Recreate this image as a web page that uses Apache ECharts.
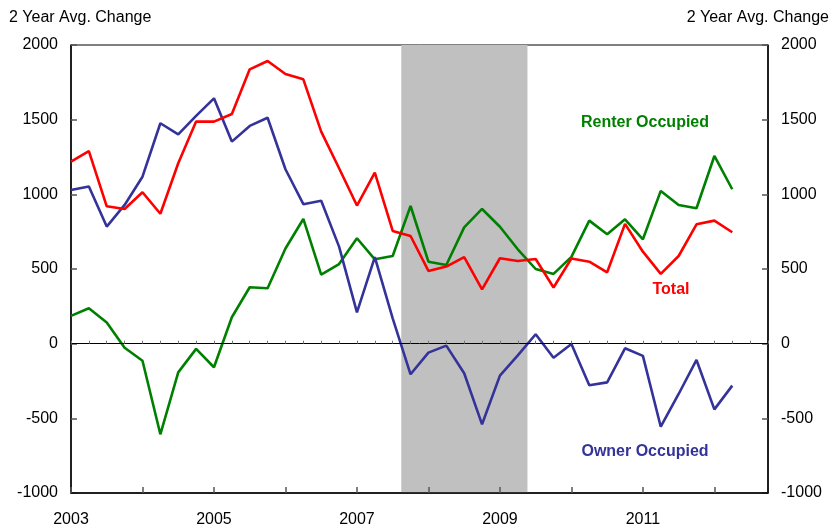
<!DOCTYPE html>
<html>
<head>
<meta charset="utf-8">
<script src="https://cdn.jsdelivr.net/npm/echarts@6/dist/echarts.min.js"></script>
<style>
  body { margin: 0; padding: 0; background: #fff; }
  #chart { width: 833px; height: 531px; }
</style>
</head>
<body>
<div id="chart"></div>
<script>
// quarterly points, 2003Q1 .. 2012Q2
const quarters = [
  2003, 2003.25, 2003.5, 2003.75, 2004, 2004.25, 2004.5, 2004.75,
  2005, 2005.25, 2005.5, 2005.75, 2006, 2006.25, 2006.5, 2006.75,
  2007, 2007.25, 2007.5, 2007.75, 2008, 2008.25, 2008.5, 2008.75,
  2009, 2009.25, 2009.5, 2009.75, 2010, 2010.25, 2010.5, 2010.75,
  2011, 2011.25, 2011.5, 2011.75, 2012, 2012.25
]
const total = [
  1219, 1290, 920, 902, 1014, 870, 1208, 1487,
  1487, 1538, 1837, 1893, 1806, 1770, 1420, 1175,
  925, 1145, 755, 721, 487, 516, 579, 364,
  572, 554, 567, 376, 570, 549, 478, 802,
  616, 467, 587, 799, 824, 746
]
const owner = [
  1029, 1052, 784, 929, 1118, 1476, 1402, 1525,
  1643, 1353, 1458, 1513, 1168, 934, 957, 650,
  209, 579, 170, -205, -60, -13, -198, -540,
  -214, -78, 63, -94, -2, -279, -259, -31,
  -82, -556, -337, -109, -440, -281
]
const renter = [
  186, 237, 141, -27, -114, -607, -192, -35,
  -158, 177, 378, 371, 637, 835, 463, 533,
  706, 565, 587, 922, 549, 527, 779, 902,
  783, 632, 500, 467, 581, 824, 733, 833,
  699, 1023, 929, 907, 1257, 1034
]
const recession = [2007.62, 2009.385]
const yTicks = { min: -1000, max: 2000, interval: 500 }

const FONT = 'Liberation Sans, Arial, sans-serif'
const pairs = vals => quarters.map((q, i) => [q, vals[i]])

const chart = echarts.init(document.getElementById('chart'), null, { renderer: 'canvas' })

function yAxis(pos) {
  return {
    type: 'value', position: pos,
    min: yTicks.min, max: yTicks.max, interval: yTicks.interval,
    axisLine: { show: true, lineStyle: { color: '#000', width: 1.5 } },
    axisTick: { show: true, inside: true, length: 6, lineStyle: { color: '#555', width: 1.5 } },
    axisLabel: { color: '#000', fontSize: 16, fontFamily: FONT, margin: 13, formatter: v => String(v) },
    splitLine: { show: false }
  }
}

function line(name, vals, color) {
  return {
    name, type: 'line', data: pairs(vals), z: 3,
    symbol: 'none', animation: false,
    lineStyle: { color, width: 2.6 }
  }
}

chart.setOption({
  animation: false,
  grid: { left: 71, right: 65, top: 45, bottom: 38, show: true, borderColor: '#000', borderWidth: 1 },
  xAxis: [
    {
      type: 'value', min: 2003, max: 2012.75, interval: 1,
      axisLine: { onZero: false, lineStyle: { color: '#000', width: 1.5 } },
      axisTick: { inside: true, length: 6, lineStyle: { color: '#555', width: 1.5 } },
      axisLabel: {
        color: '#000', fontSize: 16, fontFamily: FONT, margin: 19,
        showMaxLabel: false,
        formatter: v => (v % 2 === 1 ? String(v) : '')
      },
      splitLine: { show: false },
      z: 5
    },
    {
      type: 'value', min: 2003, max: 2012.75, interval: 0.25,
      axisLine: { onZero: true, lineStyle: { color: '#000', width: 1 } },
      axisTick: { inside: false, length: 3, lineStyle: { color: '#777', width: 1 } },
      axisLabel: { show: false },
      splitLine: { show: false },
      z: 5
    }
  ],
  yAxis: [yAxis('left'), yAxis('right')],
  series: [
    {
      name: 'recession', type: 'line', data: [], z: 1, silent: true,
      markArea: {
        silent: true,
        itemStyle: { color: '#C0C0C0', opacity: 1 },
        data: [[{ xAxis: recession[0] }, { xAxis: recession[1] }]]
      }
    },
    line('Renter Occupied', renter, '#008000'),
    line('Owner Occupied', owner, '#333399'),
    line('Total', total, '#FF0000')
  ],
  graphic: [
    { type: 'text', left: 9, top: 10, style: { text: '2 Year Avg. Change', fill: '#000', font: '16px ' + FONT } },
    { type: 'text', right: 4, top: 10, style: { text: '2 Year Avg. Change', fill: '#000', font: '16px ' + FONT } },
    { type: 'text', x: 645, y: 123, style: { text: 'Renter Occupied', fill: '#008000', font: 'bold 16px ' + FONT, align: 'center', verticalAlign: 'middle' } },
    { type: 'text', x: 671, y: 290, style: { text: 'Total', fill: '#FF0000', font: 'bold 16px ' + FONT, align: 'center', verticalAlign: 'middle' } },
    { type: 'text', x: 645, y: 452, style: { text: 'Owner Occupied', fill: '#333399', font: 'bold 16px ' + FONT, align: 'center', verticalAlign: 'middle' } }
  ]
})
</script>
</body>
</html>
